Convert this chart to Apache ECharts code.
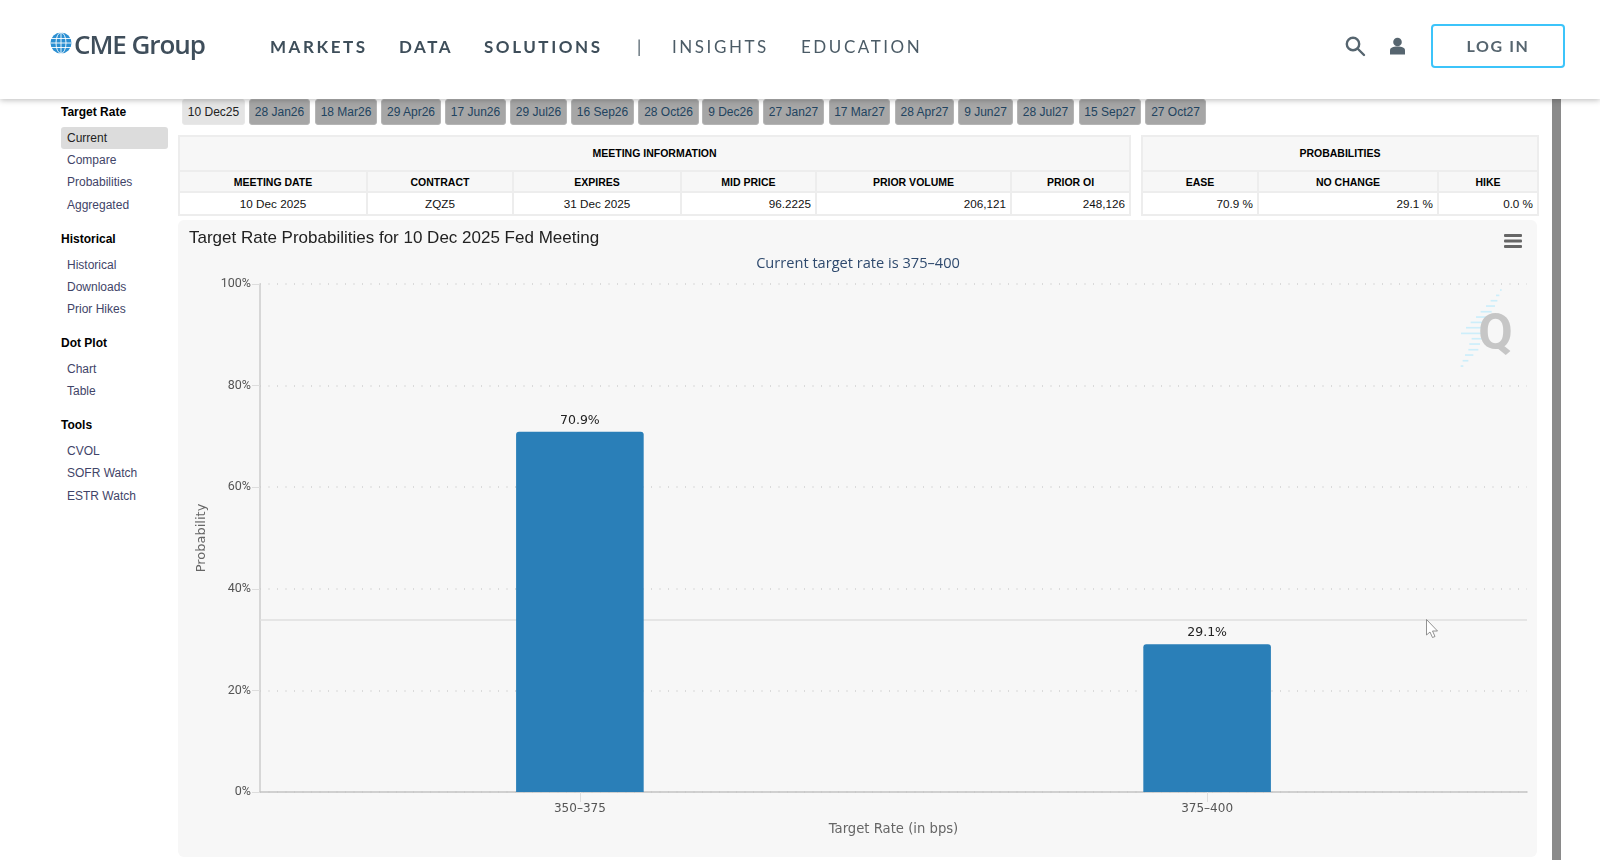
<!DOCTYPE html>
<html lang="en">
<head>
<meta charset="utf-8">
<title>CME FedWatch</title>
<script src="https://cdn.jsdelivr.net/npm/echarts@6/dist/echarts.min.js"></script>
<style>
  html, body { margin: 0; padding: 0; width: 1600px; height: 860px; overflow: hidden; background: #fff; font-family: "Liberation Sans", Arial, sans-serif; }
  .abs { position: absolute; white-space: nowrap; }
  #header { position: absolute; left: 0; top: 0; width: 1600px; height: 99px; background: #fff; box-shadow: 0 1px 6px rgba(0,0,0,.28); z-index: 5; }
  .nav { position: absolute; top: 35.5px; font: 17px/22px Lato, sans-serif; letter-spacing: 2.55px; color: #4b5b66; }
  .nav.strong { font-weight: 700; color: #3e4e5a; }
  #login { position: absolute; left: 1431px; top: 24px; width: 130px; height: 40px; border: 2px solid #3cc4fa; border-radius: 4px; text-align: center; font: 700 16px/40px Lato, sans-serif; letter-spacing: 1.6px; color: #56656f; }
  #scroll { position: absolute; left: 1552px; top: 99px; width: 9px; height: 761px; background: #8a8a8a; }
  .tab { position: absolute; top: 99px; height: 24px; line-height: 24px; background: #a6a6a6; border: 1px solid #b5b5b5; border-radius: 3px; text-align: center; font-size: 12px; color: #21435f; }
  .tab.on { background: #e4e4e4; border-color: #e8e8e8; color: #222; }
  .head { position: absolute; left: 61px; font: 700 12px/16px "Liberation Sans", Arial, sans-serif; color: #000; }
  .item { position: absolute; left: 67px; font: 12px/16px "Liberation Sans", Arial, sans-serif; color: #3f4468; }
  #cur { position: absolute; left: 61px; top: 127px; width: 107px; height: 22px; background: #dcdcdc; border-radius: 3px; }
  table { position: absolute; border-collapse: collapse; table-layout: fixed; font-size: 11.7px; color: #111; background: #fff; }
  td, th { border: 2px solid #ededed; padding: 0 4px; overflow: hidden; white-space: nowrap; }
  th { background: #f7f7f7; font-weight: 700; font-size: 10.5px; color: #000; text-align: center; }
  th.title { padding-bottom: 2px; }
  td.r { text-align: right; } td.c { text-align: center; }
  #chart { position: absolute; left: 178px; top: 220px; width: 1359px; height: 637px; background: #f7f7f7; border-radius: 6px; overflow: hidden; }
  svg.over { position: absolute; left: 0; top: 0; pointer-events: none; }
</style>
</head>
<body>
<div id="sidebar"></div>
<div id="tabs"></div>
<table id="meeting" style="left:178px;top:135px;width:951px"></table>
<table id="probs" style="left:1141px;top:135px;width:396px"></table>
<div id="chart"></div>
<div id="scroll"></div>

<svg class="over" width="1600" height="860" style="z-index:3">
  <!-- hamburger menu -->
  <g fill="#666">
    <rect x="1504" y="234" width="18" height="3" rx="1"/>
    <rect x="1504" y="239.5" width="18" height="3" rx="1"/>
    <rect x="1504" y="245" width="18" height="3" rx="1"/>
  </g>
  <!-- watermark -->
  <g id="stripes" fill="#cdeefa"></g>
  <text x="1495.5" y="349" text-anchor="middle" font-family="Roboto, sans-serif" font-weight="700" font-size="50" fill="#c6c6c6">Q</text>
  <!-- pointer -->
  <path d="M1426.5 619.5 L1426.5 635 L1430 632 L1432.5 637.5 L1435 636.5 L1432.5 631 L1437.5 631 Z" fill="#fff" stroke="#777" stroke-width="0.8"/>
</svg>

<div id="header">
  <svg class="abs" style="left:50px;top:32px" width="22" height="22" viewBox="0 0 22 22">
    <circle cx="11" cy="11" r="10.5" fill="#2b8fd2"/>
    <g stroke="#fff" stroke-width="0.9" fill="none">
      <ellipse cx="11" cy="11" rx="5" ry="10.5"/>
      <path d="M11 .5V21.5M1 6.5H21M.5 11H21.5M1 15.5H21"/>
    </g>
  </svg>
  <div class="abs" style="left:74px;top:25.5px;font:600 26px/36px 'Open Sans',sans-serif;letter-spacing:-1.05px;color:#3f4e5b">CME Group</div>
  <div class="nav strong" style="left:270px">MARKETS</div>
  <div class="nav strong" style="left:399px">DATA</div>
  <div class="nav strong" style="left:484px">SOLUTIONS</div>
  <div class="nav" style="left:637px">|</div>
  <div class="nav" style="left:672px">INSIGHTS</div>
  <div class="nav" style="left:801px">EDUCATION</div>
  <svg class="abs" style="left:1344px;top:35px" width="22" height="22" viewBox="0 0 22 22" fill="none" stroke="#56656f" stroke-width="2.4">
    <circle cx="9" cy="9" r="6.2"/><path d="M13.5 13.5 L20 20" stroke-linecap="round"/>
  </svg>
  <svg class="abs" style="left:1389px;top:37px" width="17" height="18" viewBox="0 0 17 18" fill="#56656f">
    <circle cx="8.5" cy="5" r="4.3"/><path d="M1 17.5 V13.5 C1 10.5 4 9.5 8.5 9.5 C13 9.5 16 10.5 16 13.5 V17.5 Z"/>
  </svg>
  <div id="login">LOG IN</div>
</div>

<script>
// Rate buckets and their probabilities for the selected meeting
const categories = ['350–375', '375–400'];
const probabilities = [70.9, 29.1];
const yTicks = [0, 20, 40, 60, 80, 100];
const referenceLevel = 34;

// Page furniture
const meetingTabs = ['10 Dec25','28 Jan26','18 Mar26','29 Apr26','17 Jun26','29 Jul26','16 Sep26','28 Oct26','9 Dec26','27 Jan27','17 Mar27','28 Apr27','9 Jun27','28 Jul27','15 Sep27','27 Oct27'];
const tabEdges = [[182,245],[249,310],[315,377],[381,441],[445,506],[510,567],[571,634],[638,699],[702,759],[763,824],[829,890],[895,954],[958,1013],[1017,1074],[1079,1141],[1145,1206]];
const meetingHead = ['MEETING DATE','CONTRACT','EXPIRES','MID PRICE','PRIOR VOLUME','PRIOR OI'];
const meetingRow = ['10 Dec 2025','ZQZ5','31 Dec 2025','96.2225','206,121','248,126'];
const meetingCols = [188,146,168,135,195,119];
const probHead = ['EASE','NO CHANGE','HIKE'];
const probRow = ['70.9 %','29.1 %','0.0 %'];
const probCols = [116,180,100];
const sideHeads = [['Target Rate',104],['Historical',231],['Dot Plot',335],['Tools',417]];
const sideItems = [['Current',130],['Compare',152],['Probabilities',174],['Aggregated',196.5],['Historical',257],['Downloads',279],['Prior Hikes',301],['Chart',361],['Table',383],['CVOL',443],['SOFR Watch',465],['ESTR Watch',487.5]];
const stripeRows = [[360,365,210],[348,358,226],[332,352,242],[318,345,258],[302,335,275],[288,325,291],[272,310,307],[258,305,323],[243,310,340],[275,305,356],[268,300,372],[265,295,389],[255,280,405],[248,265,422],[242,250,438]];

document.getElementById('tabs').innerHTML = meetingTabs.map((t, i) =>
  `<div class="tab${i === 0 ? ' on' : ''}" style="left:${tabEdges[i][0]}px;width:${tabEdges[i][1] - tabEdges[i][0] - 2}px">${t}</div>`).join('');

document.getElementById('sidebar').innerHTML = '<div id="cur"></div>' +
  sideHeads.map(h => `<div class="head" style="top:${h[1]}px">${h[0]}</div>`).join('') +
  sideItems.map((s, i) => `<div class="item" style="top:${s[1]}px;${i === 0 ? 'color:#222' : ''}">${s[0]}</div>`).join('');

function fillTable(id, title, head, row, cols, align) {
  const colgroup = cols.map(w => `<col style="width:${w}px">`).join('');
  document.getElementById(id).innerHTML = `<colgroup>${colgroup}</colgroup>` +
    `<tr style="height:35px"><th class="title" colspan="${cols.length}">${title}</th></tr>` +
    `<tr style="height:21px">${head.map(h => `<th>${h}</th>`).join('')}</tr>` +
    `<tr style="height:23px">${row.map((v, i) => `<td class="${align[i]}">${v}</td>`).join('')}</tr>`;
}
fillTable('meeting', 'MEETING INFORMATION', meetingHead, meetingRow, meetingCols, ['c','c','c','r','r','r']);
fillTable('probs', 'PROBABILITIES', probHead, probRow, probCols, ['r','r','r']);

document.getElementById('stripes').innerHTML = stripeRows.map(r =>
  `<rect x="${1380 + r[0] / 3}" y="${220 + r[2] / 3 - 0.8}" width="${(r[1] - r[0]) / 3}" height="1.7"/>`).join('');

// The chart itself
const chartFont = '"DejaVu Sans", sans-serif';
const chart = echarts.init(document.getElementById('chart'), null, { renderer: 'canvas' });
chart.setOption({
  animation: false,
  backgroundColor: 'transparent',
  title: [
    { text: 'Target Rate Probabilities for 10 Dec 2025 Fed Meeting', left: 6, top: 5,
      textStyle: { fontFamily: '"Liberation Sans", Arial, sans-serif', fontWeight: 400, fontSize: 17, color: '#222' } },
    { text: 'Current target rate is 375–400', left: 675, top: 31, textAlign: 'center',
      textStyle: { fontFamily: '"Open Sans", sans-serif', fontWeight: 400, fontSize: 14.6, color: '#2f4a6e' } }
  ],
  grid: { left: 82, right: 10, top: 64, bottom: 65 },
  xAxis: {
    type: 'value', min: -0.51, max: 1.51,
    name: 'Target Rate (in bps)', nameLocation: 'middle', nameGap: 31,
    nameTextStyle: { fontFamily: chartFont, fontSize: 13.2, color: '#666' },
    axisLine: { show: true, onZero: false, lineStyle: { color: '#c4c4c4', width: 1.5 } },
    axisTick: { show: true, length: 10, lineStyle: { color: '#dedede', width: 1 }, customValues: [0, 1] },
    axisLabel: { customValues: [0, 1], formatter: v => categories[v], margin: 11,
      fontFamily: chartFont, fontSize: 12, color: '#555' },
    splitLine: { show: false }
  },
  yAxis: {
    type: 'value', min: yTicks[0], max: yTicks[yTicks.length - 1], interval: 20,
    name: 'Probability', nameLocation: 'middle', nameGap: 52, nameRotate: 90,
    nameTextStyle: { fontFamily: chartFont, fontSize: 13, color: '#666' },
    axisLine: { show: true, onZero: false, lineStyle: { color: '#cccccc', width: 1.5 } },
    axisTick: { show: true, length: 8, lineStyle: { color: '#dddddd', width: 1 } },
    axisLabel: { formatter: '{value}%', margin: 9, fontFamily: 'Roboto, sans-serif', fontSize: 12.5, color: '#555' },
    splitLine: { show: true, lineStyle: { color: '#dadada', width: 2, type: [1, 7.5] } }
  },
  series: [
    { type: 'line', z: 1, data: [], symbol: 'none',
      markLine: { z: 1, silent: true, symbol: 'none', animation: false, label: { show: false },
        lineStyle: { color: '#dfdfdf', width: 1.6, type: 'solid' },
        data: [{ yAxis: referenceLevel }] } },
    { type: 'bar', z: 3, barWidth: 127.6,
      data: categories.map((c, i) => [i, probabilities[i]]),
      itemStyle: { color: '#2a7fb8', borderRadius: [3, 3, 0, 0] },
      label: { show: true, position: 'top', distance: 5, formatter: p => p.value[1].toFixed(1) + '%',
        fontFamily: chartFont, fontSize: 12.5, color: '#222' } }
  ]
});
</script>
</body>
</html>
